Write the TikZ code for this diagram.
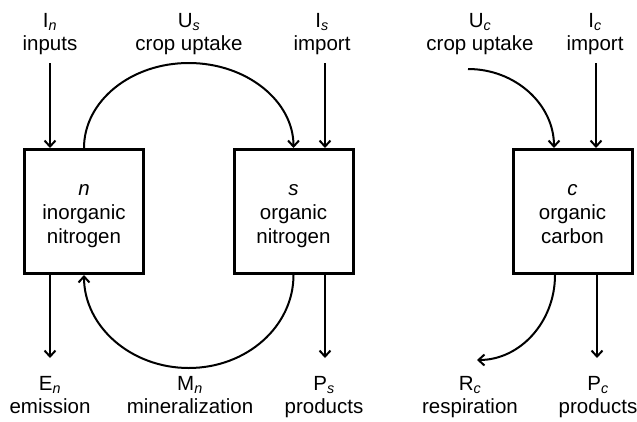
\documentclass[tikz,border=0pt]{standalone}
\usepackage{fontspec}
\setmainfont{Liberation Sans}
\usetikzlibrary{arrows.meta,calc}
\tikzset{
  pool/.style={draw, line width=3pt, minimum width=119pt, minimum height=124pt, inner sep=0pt, align=center, font=\fontsize{20.5}{24}\selectfont},
  lbl/.style={align=center, anchor=base, inner sep=0pt},
  arr/.style={line width=2pt, -{Straight Barb[length=6pt,width=11pt]}},
}
\newcommand{\sbi}[1]{\textsubscript{\textit{#1}}}
\newcommand{\topfix}{\rule{0pt}{20pt}}
\newcommand{\botfix}{\rule[-5pt]{0pt}{5pt}}
\begin{document}
\begin{tikzpicture}[x=1pt,y=-1pt,font=\fontsize{20.5}{22.5}\selectfont]
\useasboundingbox (0,0) rectangle (637,421);
% pools
\node[pool] (n) at (84,211.5) {\topfix\textit{n}\\inorganic\\nitrogen\botfix};
\node[pool] (s) at (293.5,211.5) {\topfix\textit{s}\\organic\\nitrogen\botfix};
\node[pool] (c) at (572.5,211.5) {\topfix\textit{c}\\organic\\carbon\botfix};
% top labels
\node[lbl] (lIn) at (50,50) {I\sbi{n}\\inputs};
\node[lbl] (lUs) at (189,50) {U\sbi{s}\\crop uptake};
\node[lbl] (lIs) at (322,50) {I\sbi{s}\\import};
\node[lbl] (lUc) at (480,50) {U\sbi{c}\\crop uptake};
\node[lbl] (lIc) at (595,50) {I\sbi{c}\\import};
% bottom labels
\node[lbl] (lEn) at (50,413) {E\sbi{n}\\emission};
\node[lbl] (lMn) at (190,413) {M\sbi{n}\\mineralization};
\node[lbl] (lPs) at (324,413) {P\sbi{s}\\products};
\node[lbl] (lRc) at (470,413) {R\sbi{c}\\respiration};
\node[lbl] (lPc) at (598,413) {P\sbi{c}\\products};
% free ends
\coordinate (aIn) at (50,63);
\coordinate (aIs) at (325,63);
\coordinate (aIc) at (596,63);
\coordinate (aUc) at (468,69);
\coordinate (usTop) at (188.75,63);
\coordinate (mnBot) at (188.75,368);
\coordinate (bEn) at (50,358);
\coordinate (bPs) at (325,358);
\coordinate (bPc) at (597,358);
\coordinate (bRc) at (477,360);
% straight flows
\draw[arr] (aIn) -- (aIn |- n.north);
\draw[arr] (aIs) -- (aIs |- s.north);
\draw[arr] (aIc) -- (aIc |- c.north);
\draw[arr] (bEn |- n.south) -- (bEn);
\draw[arr] (bPs |- s.south) -- (bPs);
\draw[arr] (bPc |- c.south) -- (bPc);
% crop uptake (nitrogen)
\draw[arr] (n.north) .. controls ([yshift=46.9pt]n.north) and ([xshift=-57.9pt]usTop) .. (usTop)
  .. controls ([xshift=57.9pt]usTop) and ([yshift=46.9pt]s.north) .. (s.north);
% mineralization
\draw[arr] (s.south) .. controls ([yshift=-51.4pt]s.south) and ([xshift=57.9pt]mnBot) .. (mnBot)
  .. controls ([xshift=-57.9pt]mnBot) and ([yshift=-51.4pt]n.south) .. (n.south);
% crop uptake (carbon)
\coordinate (cIn) at ([xshift=-18.5pt]c.north);
\draw[arr] (aUc) .. controls ([xshift=47.5pt]aUc) and ([yshift=43.6pt]cIn) .. (cIn);
% respiration
\coordinate (cOut) at ([xshift=-17.5pt]c.south);
\draw[arr] (cOut) .. controls ([yshift=-47pt]cOut) and ([xshift=43pt]bRc) .. (bRc);
\end{tikzpicture}
\end{document}
